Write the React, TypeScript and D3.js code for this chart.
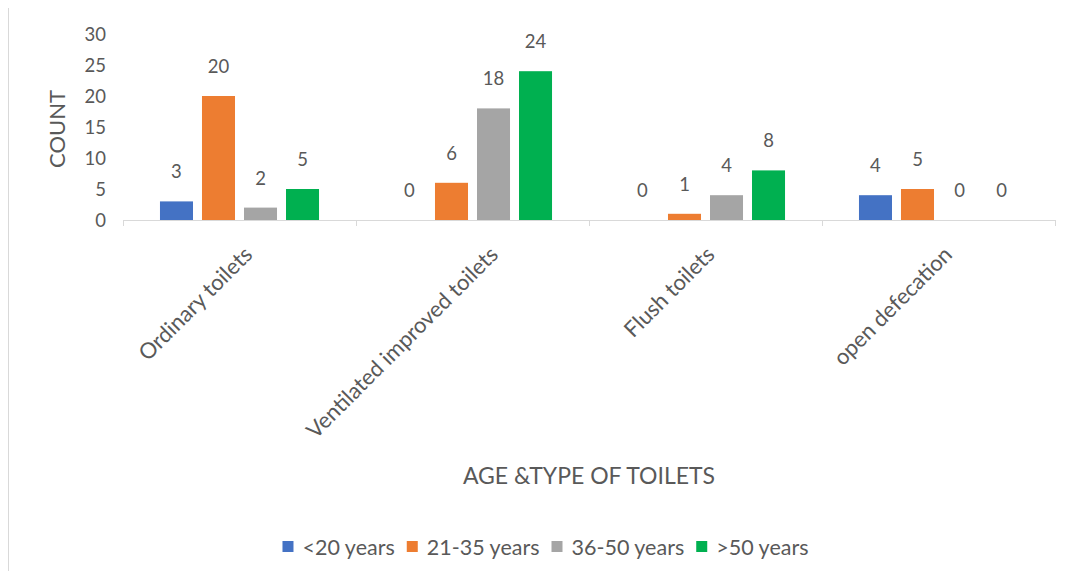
import React, { useEffect, useRef } from "react";
import * as d3 from "d3";

const categories = ["Ordinary toilets", "Ventilated improved toilets", "Flush toilets", "open defecation"];
const seriesNames = ["<20 years", "21-35 years", "36-50 years", ">50 years"];
const under20 = [3, 0, 0, 4];
const age21to35 = [20, 6, 1, 5];
const age36to50 = [2, 18, 4, 0];
const over50 = [5, 24, 8, 0];
const yTicks = [0, 5, 10, 15, 20, 25, 30];
const colors = ["#4472C4", "#ED7D31", "#A5A5A5", "#00B050"];

const W = 1072;
const H = 579;
const FONT = "Lato, 'Open Sans', sans-serif";
const TXT = "#595959";

export default function App() {
  const ref = useRef<SVGSVGElement | null>(null);
  useEffect(() => {
    const svg = d3.select(ref.current);
    svg.selectAll("*").remove();
    const series = [under20, age21to35, age36to50, over50];

    svg.append("rect").attr("x", 0).attr("y", 0).attr("width", W).attr("height", H).attr("fill", "#fff");
    svg.append("rect").attr("x", 8.5).attr("y", 6.5).attr("width", W + 20).attr("height", H + 20)
      .attr("fill", "none").attr("stroke", "#d9d9d9");

    const x0 = d3.scaleBand<string>().domain(categories).range([123, 1055]).paddingInner(0).paddingOuter(0);
    const x1 = d3.scaleBand<number>().domain([0, 1, 2, 3]).range([0, x0.bandwidth()]).paddingInner(0.214).paddingOuter(0.88);
    const y = d3.scaleLinear().domain([0, 30]).range([220, 34]);

    const g = svg.append("g");
    series.forEach((vals, si) => {
      g.selectAll(null).data(categories).enter().append("rect")
        .attr("x", (c) => (x0(c) as number) + (x1(si) as number))
        .attr("y", (c, i) => y(vals[i]))
        .attr("width", x1.bandwidth())
        .attr("height", (c, i) => y(0) - y(vals[i]))
        .attr("fill", colors[si]);
      g.selectAll(null).data(categories).enter().append("text")
        .attr("x", (c) => (x0(c) as number) + (x1(si) as number) + x1.bandwidth() / 2)
        .attr("y", (c, i) => y(vals[i]) - 23)
        .attr("text-anchor", "middle")
        .attr("font-family", FONT).attr("font-size", 18.5).attr("fill", TXT)
        .text((c, i) => String(vals[i]));
    });

    g.append("line").attr("x1", x0.range()[0]).attr("x2", x0.range()[1])
      .attr("y1", y(0) + 0.5).attr("y2", y(0) + 0.5).attr("stroke", "#d9d9d9");
    const bounds = [...categories.map((c) => x0(c) as number), x0.range()[1]];
    g.selectAll(null).data(bounds).enter().append("line")
      .attr("x1", (d) => Math.round(d) + 0.5).attr("x2", (d) => Math.round(d) + 0.5)
      .attr("y1", y(0)).attr("y2", y(0) + 6).attr("stroke", "#d9d9d9");

    g.selectAll(null).data(yTicks).enter().append("text")
      .attr("x", 106).attr("y", (d) => y(d) + 6.5)
      .attr("text-anchor", "end")
      .attr("font-family", FONT).attr("font-size", 18.5).attr("fill", TXT)
      .text((d) => String(d));

    const catText = g.selectAll(null).data(categories).enter().append("text")
      .attr("text-anchor", "end")
      .attr("font-family", FONT).attr("font-size", 22).attr("fill", TXT)
      .text((c) => c);
    catText.attr("transform", function (c) {
      const w = (this as SVGTextElement).getComputedTextLength();
      const cx = (x0(c) as number) + x0.bandwidth() / 2;
      return `translate(${cx + 0.115 * w - 3},${256}) rotate(-45)`;
    });

    g.append("text").attr("transform", `translate(57,129) rotate(-90)`)
      .attr("text-anchor", "middle").attr("dy", "0.35em")
      .attr("font-family", FONT).attr("font-size", 22).attr("fill", TXT).text("COUNT");
    g.append("text").attr("x", 589).attr("y", 476).attr("text-anchor", "middle").attr("dy", "0.35em")
      .attr("font-family", FONT).attr("font-size", 23).attr("fill", TXT).text("AGE &TYPE OF TOILETS");

    const lg = g.append("g");
    let cx = 0;
    seriesNames.forEach((name, i) => {
      lg.append("rect").attr("x", cx).attr("y", -6).attr("width", 11).attr("height", 11).attr("fill", colors[i]);
      const t = lg.append("text").attr("x", cx + 20).attr("y", 0).attr("dy", "0.35em")
        .attr("font-family", FONT).attr("font-size", 21.5).attr("fill", TXT).text(name);
      const w = (t.node() as SVGTextElement).getComputedTextLength();
      cx += 20 + w + 12;
    });
    const total = cx - 12;
    lg.attr("transform", `translate(${545.5 - total / 2},547)`);
  }, []);

  return (
    <svg ref={ref} width={W} height={H} style={{ display: "block", margin: "-8px" }} />
  );
}
